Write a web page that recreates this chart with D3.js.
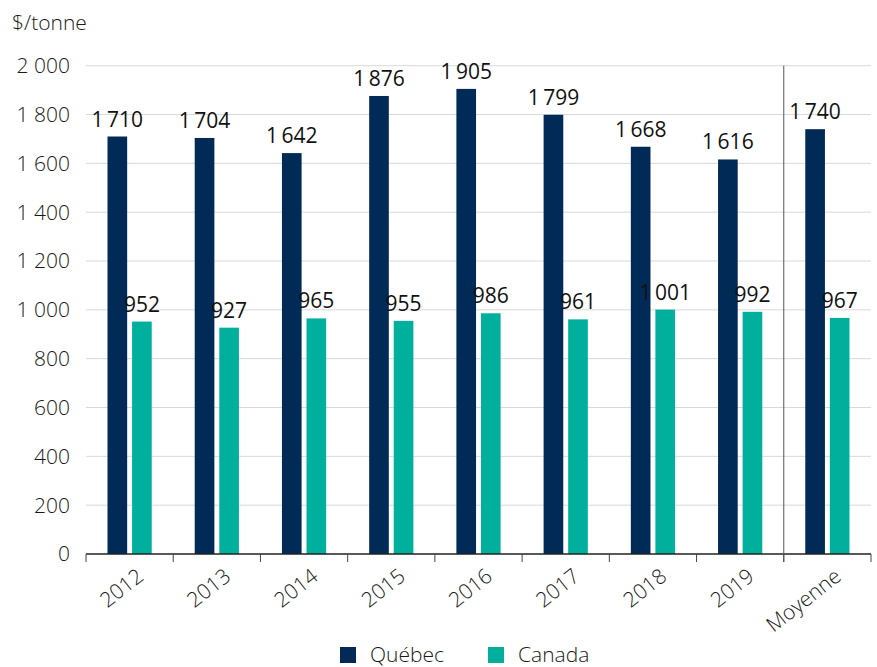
<!DOCTYPE html>
<html>
<head>
<meta charset="utf-8">
<script src="https://cdn.jsdelivr.net/npm/d3@7"></script>
<style>
  body { margin: 0; background: #fff; }
  text { font-family: "Open Sans", sans-serif; font-weight: 300; }
</style>
</head>
<body>
<svg id="chart" width="877" height="667"></svg>
<script>
// data
var categories = ["2012", "2013", "2014", "2015", "2016", "2017", "2018", "2019", "Moyenne"];
var quebec = [1710, 1704, 1642, 1876, 1905, 1799, 1668, 1616, 1740];
var canada = [952, 927, 965, 955, 986, 961, 1001, 992, 967];
var seriesNames = ["Québec", "Canada"];
var yTicks = [0, 200, 400, 600, 800, 1000, 1200, 1400, 1600, 1800, 2000];

var colors = ["#012a57", "#00b09d"];

var svg = d3.select("#chart");

// plot box (note: "top" is reserved on window, so use other names)
var plotLeft = 86, plotRight = 871, plotTop = 65.7, plotBottom = 554;

var x = d3.scaleBand().domain(categories).range([plotLeft, plotRight]).paddingInner(0).paddingOuter(0);
var xInner = d3.scaleBand().domain(seriesNames).range([21.5, x.bandwidth() - 21.5]).paddingInner(0.2);
var y = d3.scaleLinear().domain([0, 2000]).range([plotBottom, plotTop]);

var fr = d3.formatLocale({decimal: ",", thousands: "\u00a0", grouping: [3], currency: ["", " $"]});
var fmtTick = fr.format(",");
var frVal = d3.formatLocale({decimal: ",", thousands: "\u2009", grouping: [3], currency: ["", " $"]});
var fmtVal = frVal.format(",");

var fs = "21px";

// gridlines
svg.append("g").selectAll("line")
  .data(yTicks.slice(1))
  .enter().append("line")
  .attr("x1", plotLeft).attr("x2", plotRight)
  .attr("y1", function(d) { return y(d); })
  .attr("y2", function(d) { return y(d); })
  .attr("stroke", "#d9d9d9")
  .attr("stroke-width", 1);

// y labels
svg.append("g").selectAll("text")
  .data(yTicks)
  .enter().append("text")
  .attr("x", 70)
  .attr("y", function(d) { return y(d); })
  .attr("dy", "0.35em")
  .attr("text-anchor", "end")
  .style("font-size", fs)
  .style("fill", "#1a1a1a")
  .text(function(d) { return fmtTick(d); });

svg.append("text")
  .attr("x", 12).attr("y", 30)
  .style("font-size", fs)
  .style("fill", "#1a1a1a")
  .text("$/tonne");

// bars
var table = categories.map(function(c, i) { return {cat: c, values: [quebec[i], canada[i]]}; });

var groups = svg.append("g").selectAll("g")
  .data(table)
  .enter().append("g")
  .attr("transform", function(d) { return "translate(" + x(d.cat) + ",0)"; });

groups.selectAll("rect")
  .data(function(d) { return d.values.map(function(v, j) { return {s: seriesNames[j], v: v, j: j}; }); })
  .enter().append("rect")
  .attr("x", function(d) { return xInner(d.s); })
  .attr("width", xInner.bandwidth())
  .attr("y", function(d) { return y(d.v); })
  .attr("height", function(d) { return plotBottom - y(d.v); })
  .attr("fill", function(d) { return colors[d.j]; });

groups.selectAll("text")
  .data(function(d) { return d.values.map(function(v, j) { return {s: seriesNames[j], v: v}; }); })
  .enter().append("text")
  .attr("x", function(d) { return xInner(d.s) + xInner.bandwidth() / 2; })
  .attr("y", function(d) { return y(d.v) - 10; })
  .attr("text-anchor", "middle")
  .style("font-size", fs)
  .style("font-weight", 400)
  .style("fill", "#111")
  .text(function(d) { return fmtVal(d.v); });

// x axis line + ticks
svg.append("line")
  .attr("x1", plotLeft).attr("x2", plotRight)
  .attr("y1", plotBottom).attr("y2", plotBottom)
  .attr("stroke", "#222").attr("stroke-width", 1.3);

var tickPos = categories.map(function(c) { return x(c); }).concat([plotRight]);
svg.append("g").selectAll("line")
  .data(tickPos)
  .enter().append("line")
  .attr("x1", function(d) { return d; }).attr("x2", function(d) { return d; })
  .attr("y1", plotBottom).attr("y2", plotBottom + 8)
  .attr("stroke", "#444").attr("stroke-width", 1);

// separator before Moyenne
svg.append("line")
  .attr("x1", x("Moyenne")).attr("x2", x("Moyenne"))
  .attr("y1", plotTop).attr("y2", plotBottom + 8)
  .attr("stroke", "#555").attr("stroke-width", 1);

// x labels
svg.append("g").selectAll("text")
  .data(categories)
  .enter().append("text")
  .attr("transform", function(d) {
    return "translate(" + (x(d) + x.bandwidth() / 2 + 6) + "," + (plotBottom + 13) + ") rotate(-38)";
  })
  .attr("text-anchor", "end")
  .attr("dy", "0.72em")
  .style("font-size", fs)
  .style("fill", "#1a1a1a")
  .text(function(d) { return d; });

// legend
var legend = svg.append("g").selectAll("g")
  .data(seriesNames)
  .enter().append("g")
  .attr("transform", function(d, i) { return "translate(" + (340 + i * 148) + ",647)"; });

legend.append("rect")
  .attr("width", 16).attr("height", 16)
  .attr("fill", function(d, i) { return colors[i]; });

legend.append("text")
  .attr("x", 30).attr("y", 8)
  .attr("dy", "0.35em")
  .style("font-size", fs)
  .style("fill", "#1a1a1a")
  .text(function(d) { return d; });
</script>
</body>
</html>
